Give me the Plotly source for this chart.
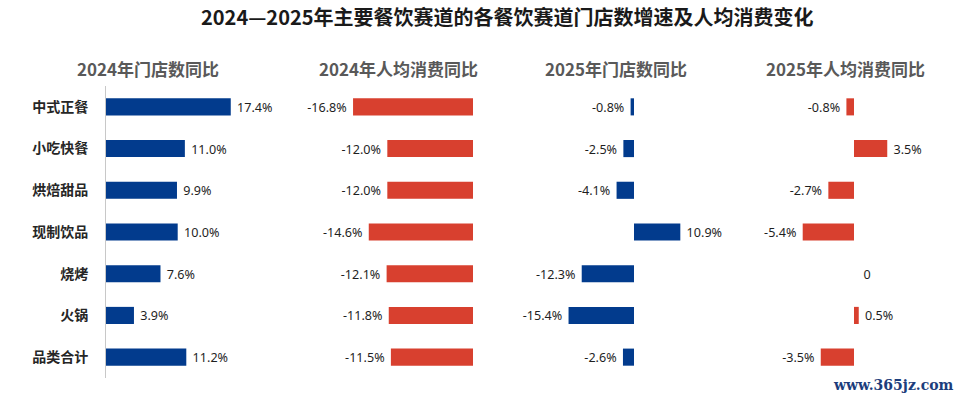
import plotly.graph_objects as go

categories = ["中式正餐", "小吃快餐", "烘焙甜品", "现制饮品", "烧烤", "火锅", "品类合计"]
stores_2024 = [17.4, 11.0, 9.9, 10.0, 7.6, 3.9, 11.2]
spend_2024 = [-16.8, -12.0, -12.0, -14.6, -12.1, -11.8, -11.5]
stores_2025 = [-0.8, -2.5, -4.1, 10.9, -12.3, -15.4, -2.6]
spend_2025 = [-0.8, 3.5, -2.7, -5.4, 0, 0.5, -3.5]
panel_titles = ["2024年门店数同比", "2024年人均消费同比", "2025年门店数同比", "2025年人均消费同比"]
title_text = "2024—2025年主要餐饮赛道的各餐饮赛道门店数增速及人均消费变化"

BLUE = "#023b8d"
RED = "#d8402f"
W, H = 964, 400

def labels(vals):
    out = []
    for v in vals:
        if v == 0:
            out.append("  0")
        elif v > 0:
            out.append(f" {v:.1f}%")
        else:
            out.append(f"{v:.1f}% ")
    return out

def px(x):
    return x / W

ydom = [1 - 378 / H, 1 - 86 / H]

# (values, color, domain px, range)
panels = [
    (stores_2024, BLUE, (106, 290), (0, 184 / 7.17)),
    (spend_2024, RED, (290, 473), (-183 / 7.14, 0)),
    (stores_2025, BLUE, (500, 760), (-134 / 4.25, 126 / 4.25)),
    (spend_2025, RED, (770, 964), (-84 / 9.5, 110 / 9.5)),
]

fig = go.Figure()
layout = {}
for i, (vals, col, dom, rng) in enumerate(panels, start=1):
    sfx = "" if i == 1 else str(i)
    fig.add_trace(go.Bar(
        x=vals, y=categories, orientation="h",
        marker=dict(color=col, line=dict(width=0)),
        width=0.41,
        text=labels(vals), textposition="outside", cliponaxis=False,
        textfont=dict(family="Noto Sans, Open Sans, sans-serif", size=14, color="#1f1f1f"),
        xaxis="x" + sfx, yaxis="y" + sfx, showlegend=False, hoverinfo="skip",
    ))
    layout["xaxis" + sfx] = dict(domain=[px(dom[0]), px(dom[1])], range=list(rng),
                                 showgrid=False, zeroline=False, showticklabels=False,
                                 showline=False, anchor="y" + sfx, fixedrange=True)
    ydict = dict(domain=ydom, anchor="x" + sfx, type="category",
                 categoryorder="array", categoryarray=categories,
                 autorange="reversed", showgrid=False, zeroline=False, fixedrange=True)
    if i == 1:
        ydict.update(showline=True, linecolor="#c8c8c8", linewidth=1, ticks="",
                     ticklabelstandoff=14,
                     tickfont=dict(family="Noto Sans CJK SC", size=14, color="#262626"),
                     tickprefix="<b>", ticksuffix="</b>")
    else:
        ydict.update(showline=False, showticklabels=False, matches="y")
    layout["yaxis" + sfx] = ydict

fig.update_layout(**layout)

annotations = [
    dict(text="<b>" + title_text + "</b>", x=px(507), y=1 - 17 / H, xref="paper", yref="paper",
         showarrow=False, font=dict(family="Noto Sans CJK SC", size=20, color="#1a1a1a"),
         xanchor="center", yanchor="middle"),
]
for t, cx in zip(panel_titles, [148, 398, 616, 845]):
    annotations.append(dict(text="<b>" + t + "</b>", x=px(cx), y=1 - 68 / H, xref="paper", yref="paper",
                            showarrow=False, font=dict(family="Noto Sans CJK SC", size=17, color="#595959"),
                            xanchor="center", yanchor="middle"))
annotations.append(dict(text="<b>www.365jz.com</b>", x=px(956), y=1 - 385 / H, xref="paper", yref="paper",
                        showarrow=False, font=dict(family="DejaVu Serif", size=14, color="#1c3d7c"),
                        xanchor="right", yanchor="middle"))

fig.update_layout(
    width=W, height=H, margin=dict(l=0, r=0, t=0, b=0),
    paper_bgcolor="white", plot_bgcolor="white",
    bargap=0.59, annotations=annotations,
    font=dict(family="Noto Sans CJK SC"),
)

fig.write_html("out.html", post_script="document.body.style.margin='0';",
               config={"displayModeBar": False})
